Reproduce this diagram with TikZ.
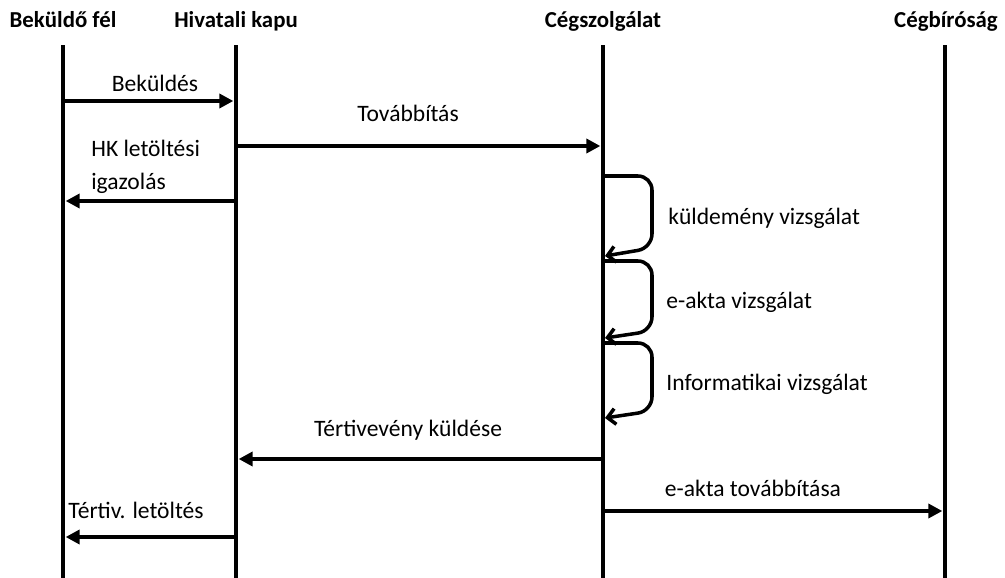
\documentclass[tikz,border=0pt]{standalone}
\usepackage{fontspec}
\setmainfont{Carlito}
\usetikzlibrary{arrows.meta}

\newcommand\lifetop{45}
\newcommand\lifebot{578}
\newcommand\setlifelines{
  \path (63,\lifetop) coordinate (bekT) (63,\lifebot) coordinate (bekB)
    (236,\lifetop) coordinate (hkT) (236,\lifebot) coordinate (hkB)
    (603,\lifetop) coordinate (cszT) (603,\lifebot) coordinate (cszB)
    (945,\lifetop) coordinate (cbT) (945,\lifebot) coordinate (cbB);
}

\begin{document}
\begin{tikzpicture}[
    x=0.02cm,y=-0.02cm,
    actor/.style={font=\bfseries\fontsize{13}{15}\selectfont,inner sep=0pt,anchor=base},
    lbl/.style={font=\fontsize{13.4}{16}\selectfont,inner sep=0pt},
    lifeline/.style={line width=2.6pt},
    msg/.style={line width=2pt,shorten >=1.5pt,-{Triangle[length=8pt,width=8pt]}},
    selfloop/.style={line width=2pt,rounded corners=8pt,-{Straight Barb[length=4.5pt,width=9pt]}}
  ]
  \useasboundingbox (0,0) rectangle (1005,578);
  \setlifelines

  % actors
  \node[actor] (bek) at (63,28) {Beküldő fél};
  \node[actor] (hk) at (236,28) {Hivatali kapu};
  \node[actor] (csz) at (603,28) {Cégszolgálat};
  \node[actor] (cb) at (946,28) {Cégbíróság};

  \draw[lifeline] (bekT) -- (bekB);
  \draw[lifeline] (hkT) -- (hkB);
  \draw[lifeline] (cszT) -- (cszB);
  \draw[lifeline] (cbT) -- (cbB);

  % messages
  \path (63,101) coordinate (m1a) (236,101) coordinate (m1b)
    (236,146) coordinate (m2a) (603,146) coordinate (m2b)
    (236,201) coordinate (m3a) (63,201) coordinate (m3b)
    (603,459) coordinate (m4a) (236,459) coordinate (m4b)
    (603,511) coordinate (m5a) (945,511) coordinate (m5b)
    (236,537) coordinate (m6a) (63,537) coordinate (m6b);

  \draw[msg] (m1a) -- (m1b);
  \node[lbl] (beku) at (155,83) {Beküldés};
  \draw[msg] (m2a) -- (m2b);
  \node[lbl] (tovab) at (408,113) {Továbbítás};
  \draw[msg] (m3a) -- (m3b);
  \node[lbl,align=left,anchor=west,font=\fontsize{13.4}{19}\selectfont] (hkig) at (91,167) {HK letöltési\\igazolás};
  \draw[msg] (m4a) -- (m4b);
  \node[lbl] (terti) at (408,430) {Tértivevény küldése};
  \draw[msg] (m5a) -- (m5b);
  \node[lbl] (eakt) at (753,488) {e-akta továbbítása};
  \draw[msg] (m6a) -- (m6b);
  \node[lbl] (tertl) at (136,510) {Tértiv. letöltés};

  % self checks
  \path (603,176) coordinate (c1a) (605,256) coordinate (c1b)
    (603,261) coordinate (c2a) (605,338) coordinate (c2b)
    (603,343) coordinate (c3a) (605,418) coordinate (c3b);

  \draw[selfloop] (c1a) -- ++(49,0) -- ++(0,72) -- (c1b);
  \node[lbl,anchor=west] (kuld) at (668,218) {küldemény vizsgálat};
  \draw[selfloop] (c2a) -- ++(49,0) -- ++(0,70) -- (c2b);
  \node[lbl,anchor=west] (eakv) at (666,302) {e-akta vizsgálat};
  \draw[selfloop] (c3a) -- ++(49,0) -- ++(0,68) -- (c3b);
  \node[lbl,anchor=west] (infv) at (666,384) {Informatikai vizsgálat};
\end{tikzpicture}
\end{document}
